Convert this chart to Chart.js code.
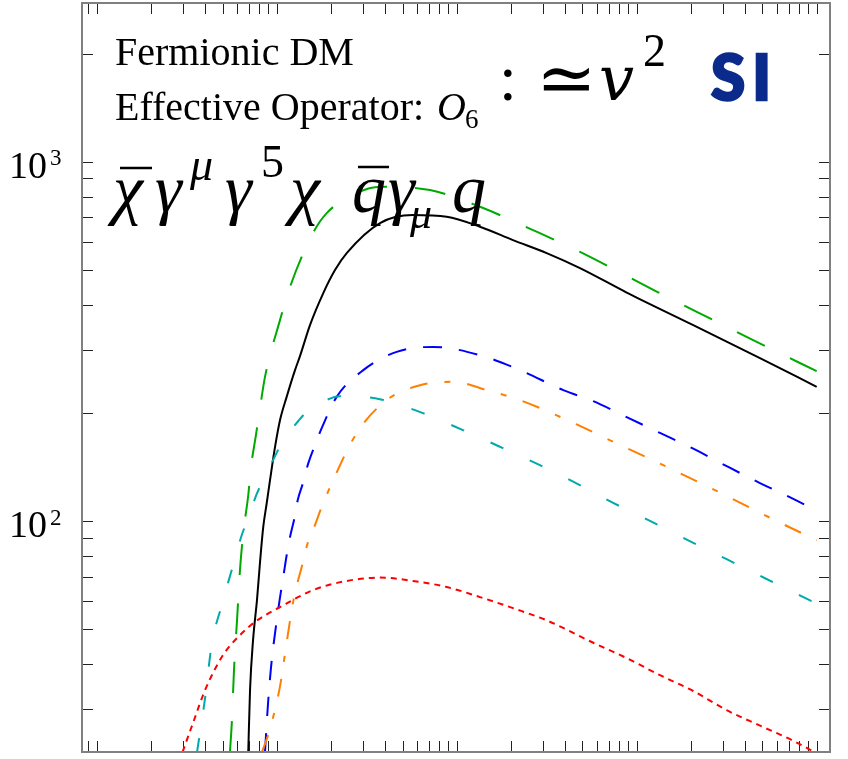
<!DOCTYPE html>
<html>
<head>
<meta charset="utf-8">
<script src="https://cdn.jsdelivr.net/npm/chart.js@4.4.1/dist/chart.umd.min.js"></script>
<style>
  html, body { margin: 0; padding: 0; background: #fff; }
  #wrap { position: relative; width: 848px; height: 759px; overflow: hidden; }
  #c { position: absolute; left: 0; top: 0; }
  #ann { position: absolute; left: 0; top: 0; pointer-events: none; }
</style>
</head>
<body>
<div id="wrap">
  <canvas id="c" width="848" height="759"></canvas>
  <svg id="ann" width="848" height="759" xmlns="http://www.w3.org/2000/svg"
       font-family="'Liberation Serif', 'DejaVu Serif', serif" fill="#000">
    <text x="115" y="65" font-size="40">Fermionic DM</text>
    <text x="115" y="120" font-size="40">Effective Operator:</text>
    <text x="437" y="120" font-size="40" font-style="italic">O</text>
    <text x="465" y="128" font-size="27">6</text>

    <text x="499" y="100" font-size="64">:</text>
    <text x="536" y="103" font-size="72" font-family="'DejaVu Serif', serif">≃</text>
    <text x="599" y="100" font-size="62" font-style="italic" font-family="'DejaVu Serif', serif">v</text>
    <text x="643" y="66" font-size="46">2</text>
    <text x="711" y="100" font-size="62" font-family="Lato, 'DejaVu Sans', sans-serif" font-weight="900"
          fill="#0b2b8c" stroke="#0b2b8c" stroke-width="2.5" letter-spacing="7">SI</text>

    <text x="113" y="212" font-size="68" font-style="italic">χ</text>
    <line x1="120" y1="168" x2="152" y2="168" stroke="#000" stroke-width="2.5"/>
    <text x="155" y="212" font-size="68" font-style="italic">γ</text>
    <text x="190" y="180" font-size="46" font-style="italic">μ</text>
    <text x="225" y="212" font-size="68" font-style="italic">γ</text>
    <text x="261" y="177" font-size="46">5</text>
    <text x="290" y="212" font-size="68" font-style="italic">χ</text>
    <text x="352" y="212" font-size="68" font-style="italic">q</text>
    <line x1="358" y1="167" x2="389" y2="167" stroke="#000" stroke-width="2.5"/>
    <text x="388" y="212" font-size="68" font-style="italic">γ</text>
    <text x="410" y="228" font-size="44" font-style="italic">μ</text>
    <text x="452" y="212" font-size="68" font-style="italic">q</text>
  </svg>
</div>
<script>
// ---------------- data ----------------
const xRange = [8.285, 118600];
const yRange = [22.8, 2765];

const yTickValues = [100, 1000];
const yTickBase = '10';
const yTickExponents = ['2', '3'];

const xBlack = [69.5, 71.1, 73.9, 77.7, 80.7, 84.2, 88.0, 91.8, 97.9, 104.3, 113.6, 126.4, 134.7, 153.1, 181.5, 210.8, 244.9, 374.9, 571.8, 879.8, 1347, 2055, 3162, 4842, 8798, 20630, 48420, 100000];
const yBlack = [22.8, 33.9, 46.7, 60.3, 76.4, 96.4, 112.2, 130.1, 161.0, 191.0, 221.8, 263.2, 287.9, 351.2, 431.1, 499.6, 557.0, 675.2, 710.7, 703.0, 659.4, 605.5, 557.0, 506.0, 432.7, 351.2, 284.3, 236.6];

const xGreen = [55.0, 56.4, 57.9, 60.2, 62.5, 65.2, 69.5, 72.0, 76.4, 80.7, 86.1, 104.3, 118.6, 159.1, 189.6, 278.2, 374.9, 710.7, 1347, 2654, 4842, 12915, 25540, 50500, 100000];
const yGreen = [22.8, 27.9, 38.5, 53.0, 73.0, 92.6, 118.1, 141.7, 171.6, 205.9, 252.1, 362.6, 448.8, 633.3, 719.7, 818.3, 852, 834.1, 749.5, 645.6, 561.7, 435.5, 366.6, 308.9, 261.5];

const xCyan = [36.1, 40.0, 43.5, 49.5, 56.2, 63.9, 68.1, 77.4, 83.2, 97.9, 106.6, 133.0, 149.9, 174.0, 224.8, 374.9, 649.9, 1084, 1808, 2902, 4601, 7262, 11855, 19350, 31620, 51620, 100000];
const yCyan = [22.8, 32.2, 45.2, 58.4, 73.0, 91.4, 99.6, 118.9, 128.7, 151.7, 164.9, 191.0, 203.6, 213.0, 222.8, 218.5, 199.8, 179.2, 159.7, 143.2, 127.6, 113.0, 100.2, 88.5, 78.4, 69.4, 59.0];

const xBlue = [86.1, 89.5, 93.0, 101.7, 110.2, 113.6, 118.6, 125.3, 130.8, 140.6, 148.7, 161.8, 177.8, 215.4, 302.7, 464.2, 741.3, 1347, 2248, 3910, 5739, 8798, 13470, 20630, 31620, 48420, 74130, 100000];
const yBlue = [22.8, 31.1, 39.2, 56.2, 73.0, 80.4, 90.4, 101.7, 114.4, 128.7, 143.2, 161.0, 181.5, 221.8, 263.2, 295.9, 305.5, 289.7, 263.2, 231.6, 215.8, 194.8, 176.0, 159.1, 142.3, 127.7, 115.4, 106.8];

const xOrange = [82.9, 90.6, 104.3, 114.1, 124.8, 137.7, 148.7, 161.8, 177.8, 197.8, 278.2, 408.4, 625.4, 953.7, 1468, 2248, 3896, 4738, 7576, 14680, 29030, 56230, 100000];
const yOrange = [22.8, 25.9, 34.7, 46.7, 61.4, 74.6, 86.9, 96.4, 109.6, 124.3, 175.8, 217.2, 239.0, 244.2, 231.6, 217.2, 193.5, 185.0, 165.5, 141.7, 120.1, 101.7, 88.5];

const xRed = [30.0, 34.4, 40.0, 50.3, 62.5, 76.7, 104.3, 159.1, 244.9, 374.9, 571.8, 879.8, 1347, 2055, 3162, 5739, 8798, 13470, 20630, 31620, 48420, 74130, 100000];
const yRed = [22.8, 27.6, 33.9, 42.4, 48.2, 52.7, 57.7, 64.3, 68.2, 69.7, 68.2, 65.6, 61.5, 57.3, 53.0, 45.9, 41.6, 37.3, 33.7, 29.8, 27.0, 24.5, 22.6];

// ---------------- helpers ----------------
const pts = (xs, ys) => xs.map((v, i) => ({ x: v, y: ys[i] }));

function logTickValues(min, max) {
  const out = [];
  for (let e = Math.floor(Math.log10(min)); e <= Math.ceil(Math.log10(max)); e++) {
    for (let m = 1; m <= 9; m++) {
      const v = m * Math.pow(10, e);
      if (v >= min && v <= max) out.push(v);
    }
  }
  return out;
}

const frameTicks = {
  id: 'frameTicks',
  beforeDatasetsDraw(chart) {
    const { ctx, chartArea: a, scales: { x, y } } = chart;
    const L = 11;
    ctx.save();
    ctx.strokeStyle = '#222';
    ctx.lineWidth = 1;
    ctx.beginPath();
    for (const v of logTickValues(x.min, x.max)) {
      const p = Math.round(x.getPixelForValue(v)) + 0.5;
      ctx.moveTo(p, a.bottom); ctx.lineTo(p, a.bottom - L);
      ctx.moveTo(p, a.top); ctx.lineTo(p, a.top + L);
    }
    for (const v of logTickValues(y.min, y.max)) {
      const p = Math.round(y.getPixelForValue(v)) + 0.5;
      ctx.moveTo(a.left, p); ctx.lineTo(a.left + L, p);
      ctx.moveTo(a.right, p); ctx.lineTo(a.right - L, p);
    }
    ctx.stroke();
    ctx.restore();
  },
  afterDatasetsDraw(chart) {
    const { ctx, chartArea: a, scales: { y } } = chart;
    ctx.save();
    ctx.strokeStyle = '#808080';
    ctx.lineWidth = 2;
    ctx.strokeRect(a.left, a.top, a.right - a.left, a.bottom - a.top);
    // y tick labels: base and raised exponent
    ctx.fillStyle = '#000';
    ctx.textBaseline = 'alphabetic';
    ctx.textAlign = 'left';
    yTickValues.forEach((v, i) => {
      const p = y.getPixelForValue(v);
      ctx.font = '38px "Liberation Serif"';
      ctx.fillText(yTickBase, a.left - 73, p + 16);
      ctx.font = '23px "Liberation Serif"';
      ctx.fillText(yTickExponents[i], a.left - 32, p + 3.5);
    });
    ctx.restore();
  }
};

const line = (data, color, dash, width) => ({
  data, borderColor: color, borderDash: dash, borderWidth: width,
  pointRadius: 0, fill: false, cubicInterpolationMode: 'monotone'
});

new Chart(document.getElementById('c'), {
  type: 'line',
  data: {
    datasets: [
      line(pts(xRed, yRed), 'rgb(255,0,0)', [6, 5], 2),
      line(pts(xCyan, yCyan), 'rgb(0,170,170)', [14, 29], 2),
      line(pts(xOrange, yOrange), 'rgb(255,127,0)', [18, 17, 6, 17], 2),
      line(pts(xBlue, yBlue), 'rgb(0,0,255)', [19, 17], 2),
      line(pts(xGreen, yGreen), 'rgb(0,170,0)', [31, 28], 2),
      line(pts(xBlack, yBlack), '#000', [], 2)
    ]
  },
  options: {
    responsive: false,
    animation: false,
    devicePixelRatio: 1,
    layout: { padding: { top: 3, right: 18, bottom: 7, left: 0 } },
    plugins: { legend: { display: false }, tooltip: { enabled: false } },
    scales: {
      x: { type: 'logarithmic', min: xRange[0], max: xRange[1], display: false },
      y: {
        type: 'logarithmic', min: yRange[0], max: yRange[1],
        grid: { display: false, drawTicks: false },
        border: { display: false },
        ticks: { display: false },
        afterFit: (s) => { s.width = 82; s.paddingTop = 0; s.paddingBottom = 0; }
      }
    }
  },
  plugins: [frameTicks]
});
</script>
</body>
</html>
